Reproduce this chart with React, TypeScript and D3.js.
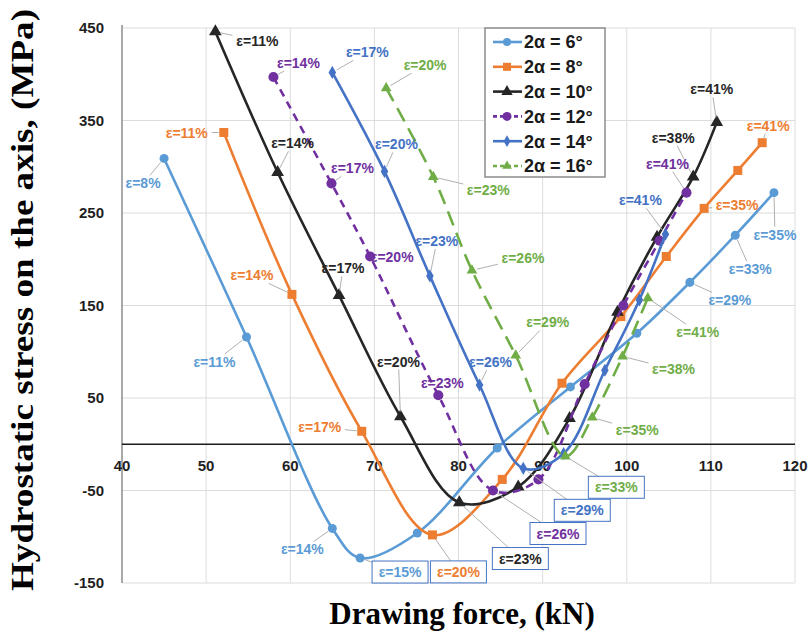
import React from 'react'
import * as d3 from 'd3'

const W = 810
const H = 637
const M = { left: 122, right: 795, top: 28, bottom: 583 }

const X_TICKS = [40, 50, 60, 70, 80, 90, 100, 110, 120]
const Y_TICKS = [-150, -50, 50, 150, 250, 350, 450]

// drawing force (kN), hydrostatic stress (MPa), strain (%)
const FORCE_6 = [45, 54.8, 65, 68.3, 75.1, 84.6, 93.3, 101.2, 107.5, 112.9, 117.5]
const STRESS_6 = [309, 116, -91, -123, -96, -4, 62, 120, 175, 226, 272]
const STRAIN_6 = [8, 11, 14, 15, 17, 20, 23, 26, 29, 33, 35]

const FORCE_8 = [52.1, 60.2, 68.5, 76.9, 85.2, 92.3, 99.3, 104.7, 109.2, 113.2, 116.1]
const STRESS_8 = [337, 162, 14, -98, -38, 66, 138, 203, 255, 296, 326]
const STRAIN_8 = [11, 14, 17, 20, 23, 26, 29, 33, 35, 38, 41]

const FORCE_10 = [51.1, 58.5, 65.8, 73.1, 80.1, 87.1, 93.2, 98.9, 103.6, 107.9, 110.7]
const STRESS_10 = [446, 294, 161, 30, -63, -46, 28, 143, 224, 289, 348]
const STRAIN_10 = [11, 14, 17, 20, 23, 26, 29, 33, 35, 38, 41]

const FORCE_12 = [58, 64.9, 69.5, 77.6, 84.1, 89.5, 95, 99.6, 103.9, 107.1]
const STRESS_12 = [397, 282, 203, 53, -50, -38, 65, 150, 220, 272]
const STRAIN_12 = [14, 17, 20, 23, 26, 29, 33, 35, 38, 41]

const FORCE_14 = [65, 71.2, 76.6, 82.5, 87.7, 92.5, 97.4, 101.5, 104.6]
const STRESS_14 = [402, 295, 182, 64, -26, -10, 80, 156, 227]
const STRAIN_14 = [17, 20, 23, 26, 29, 33, 35, 38, 41]

const FORCE_16 = [71.4, 77, 81.6, 86.8, 92.7, 95.9, 99.5, 102.5]
const STRESS_16 = [385, 289, 188, 96, -13, 29, 95, 158]
const STRAIN_16 = [20, 23, 26, 29, 33, 35, 38, 41]

const SERIES = [
  { name: '2α = 6°', color: '#5B9BD5', symbol: d3.symbolCircle, size: 64, dash: null, force: FORCE_6, stress: STRESS_6, strain: STRAIN_6 },
  { name: '2α = 8°', color: '#ED7D31', symbol: d3.symbolSquare, size: 81, dash: null, force: FORCE_8, stress: STRESS_8, strain: STRAIN_8 },
  { name: '2α = 10°', color: '#262626', symbol: d3.symbolTriangle, size: 70, dash: null, force: FORCE_10, stress: STRESS_10, strain: STRAIN_10 },
  { name: '2α = 12°', color: '#7030A0', symbol: d3.symbolCircle, size: 80, dash: '8,6', force: FORCE_12, stress: STRESS_12, strain: STRAIN_12 },
  { name: '2α = 14°', color: '#4472C4', symbol: d3.symbolDiamond, size: 50, dash: null, force: FORCE_14, stress: STRESS_14, strain: STRAIN_14 },
  { name: '2α = 16°', color: '#70AD47', symbol: d3.symbolTriangle, size: 50, dash: '15,8', force: FORCE_16, stress: STRESS_16, strain: STRAIN_16 },
]

// which points carry a strain label, and where the label sits relative to its point (px)
const LABELS = [
  { s: 0, i: 0, dx: -21, dy: 25 }, { s: 0, i: 1, dx: -32, dy: 25 }, { s: 0, i: 2, dx: -30, dy: 21 },
  { s: 0, i: 3, dx: 40, dy: 14, boxed: true }, { s: 0, i: 8, dx: 40, dy: 18 }, { s: 0, i: 9, dx: 15, dy: 34 },
  { s: 0, i: 10, dx: 1, dy: 42 },
  { s: 1, i: 0, dx: -37, dy: 0 }, { s: 1, i: 1, dx: -40, dy: -19 }, { s: 1, i: 2, dx: -42, dy: -4 },
  { s: 1, i: 3, dx: 26, dy: 37, boxed: true }, { s: 1, i: 8, dx: 33, dy: -3 }, { s: 1, i: 10, dx: 6, dy: -17 },
  { s: 2, i: 0, dx: 42, dy: 9 }, { s: 2, i: 1, dx: 15, dy: -29 }, { s: 2, i: 2, dx: 4, dy: -27 },
  { s: 2, i: 3, dx: -2, dy: -55 }, { s: 2, i: 4, dx: 61, dy: 56, boxed: true }, { s: 2, i: 9, dx: -20, dy: -39 },
  { s: 2, i: 10, dx: -5, dy: -33 },
  { s: 3, i: 0, dx: 25, dy: -14 }, { s: 3, i: 1, dx: 21, dy: -15 }, { s: 3, i: 2, dx: 22, dy: 0 },
  { s: 3, i: 3, dx: 4, dy: -12 }, { s: 3, i: 4, dx: 65, dy: 43, boxed: true }, { s: 3, i: 9, dx: -19, dy: -29 },
  { s: 4, i: 0, dx: 35, dy: -20 }, { s: 4, i: 1, dx: 12, dy: -27 }, { s: 4, i: 2, dx: 7, dy: -35 },
  { s: 4, i: 3, dx: 11, dy: -23 }, { s: 4, i: 4, dx: 59, dy: 42, boxed: true }, { s: 4, i: 8, dx: -25, dy: -34 },
  { s: 5, i: 0, dx: 39, dy: -23 }, { s: 5, i: 1, dx: 55, dy: 13 }, { s: 5, i: 2, dx: 51, dy: -12 },
  { s: 5, i: 3, dx: 32, dy: -33 }, { s: 5, i: 4, dx: 51, dy: 31, boxed: true }, { s: 5, i: 5, dx: 45, dy: 13 },
  { s: 5, i: 6, dx: 51, dy: 13 }, { s: 5, i: 7, dx: 50, dy: 34 },
]

const x = d3.scaleLinear().domain([40, 120]).range([M.left, M.right])
const y = d3.scaleLinear().domain([-150, 450]).range([M.bottom, M.top])

const FONT = 'Liberation Sans, Arial, sans-serif'
const SERIF = 'Liberation Serif, Times New Roman, serif'

function leader(px, py, cx, cy, hw, hh) {
  const dx = px - cx
  const dy = py - cy
  const t = Math.min(dx ? hw / Math.abs(dx) : Infinity, dy ? hh / Math.abs(dy) : Infinity)
  if (t >= 1) return null
  const len = Math.hypot(dx, dy)
  const back = Math.min(1, 5 / len)
  if (1 - back <= t) return null
  return [cx + dx * t, cy + dy * t, px - dx * back, py - dy * back]
}

export default function App() {
  const line = d3.line().curve(d3.curveCatmullRom.alpha(0.5))

  return (
    <svg width={W} height={H} style={{ position: 'absolute', left: 0, top: 0, background: '#fff' }}>
      {/* grid */}
      <g stroke="#dcdcdc" strokeWidth={1}>
        {X_TICKS.slice(1).map((t) => (
          <line key={'gx' + t} x1={x(t)} x2={x(t)} y1={M.top} y2={M.bottom} />
        ))}
        {Y_TICKS.map((t) => (
          <line key={'gy' + t} x1={M.left} x2={M.right} y1={y(t)} y2={y(t)} />
        ))}
      </g>
      <line x1={M.left} x2={M.left} y1={M.top - 3} y2={M.bottom} stroke="#8c8c8c" strokeWidth={1.5} />
      <line x1={M.left} x2={M.right} y1={y(0)} y2={y(0)} stroke="#1a1a1a" strokeWidth={1.5} />

      {/* ticks */}
      <g fontFamily={FONT} fontWeight="bold" fontSize={15} fill="#1f1f1f">
        {Y_TICKS.map((t) => (
          <text key={'ty' + t} x={104} y={y(t)} dy="0.36em" textAnchor="end">{t}</text>
        ))}
        {X_TICKS.map((t) => (
          <text key={'tx' + t} x={x(t)} y={y(0) + 27} textAnchor="middle">{t}</text>
        ))}
      </g>

      {/* series */}
      {SERIES.map((s, k) => {
        const pts = s.force.map((f, i) => [x(f), y(s.stress[i])])
        const sym = d3.symbol().type(s.symbol).size(s.size)()
        return (
          <g key={'s' + k}>
            <path d={line(pts)} fill="none" stroke={s.color} strokeWidth={2.6}
              strokeDasharray={s.dash || undefined} />
            {pts.map((p, i) => (
              <path key={i} d={sym} transform={`translate(${p[0]},${p[1]})`} fill={s.color} />
            ))}
          </g>
        )
      })}

      {/* strain labels */}
      <g fontFamily={FONT} fontWeight="bold" fontSize={14}>
        {LABELS.map((l, n) => {
          const s = SERIES[l.s]
          const px = x(s.force[l.i])
          const py = y(s.stress[l.i])
          const cx = px + l.dx
          const cy = py + l.dy
          const hw = l.boxed ? 28 : 25
          const hh = l.boxed ? 11 : 8
          const ld = leader(px, py, cx, cy, hw, hh)
          return (
            <g key={'l' + n}>
              {ld && <line x1={ld[0]} y1={ld[1]} x2={ld[2]} y2={ld[3]} stroke="#b0b0b0" strokeWidth={1} />}
              {l.boxed && (
                <rect x={cx - hw} y={cy - hh} width={hw * 2} height={hh * 2}
                  fill="#fff" stroke="#4472C4" strokeWidth={1} />
              )}
              <text x={cx} y={cy} dy="0.36em" textAnchor="middle" fill={s.color}>
                {'ε=' + s.strain[l.i] + '%'}
              </text>
            </g>
          )
        })}
      </g>

      {/* legend */}
      <g>
        <rect x={485} y={28} width={120} height={149} fill="#fff" stroke="#8c8c8c" strokeWidth={1.5} />
        {SERIES.map((s, k) => {
          const ly = 42 + k * 24.8
          const sym = d3.symbol().type(s.symbol).size(s.size * 0.8)()
          return (
            <g key={'lg' + k}>
              <line x1={493} x2={522} y1={ly} y2={ly} stroke={s.color} strokeWidth={2.6}
                strokeDasharray={s.dash ? '4,3' : undefined} />
              <path d={sym} transform={`translate(507,${ly})`} fill={s.color} />
              <text x={524} y={ly} dy="0.36em" fontFamily={FONT} fontWeight="bold" fontSize={18} fill="#1a1a1a">
                {s.name}
              </text>
            </g>
          )
        })}
      </g>

      {/* axis titles */}
      <text x={462} y={624} textAnchor="middle" fontFamily={SERIF} fontWeight="bold" fontSize={31} fill="#000">
        Drawing force, (kN)
      </text>
      <text transform={`translate(33,${300}) rotate(-90)`} textAnchor="middle" fontFamily={SERIF}
        fontWeight="bold" fontSize={32} fill="#000" textLength={582} lengthAdjust="spacingAndGlyphs">
        Hydrostatic stress on the axis, (MPa)
      </text>
    </svg>
  )
}
